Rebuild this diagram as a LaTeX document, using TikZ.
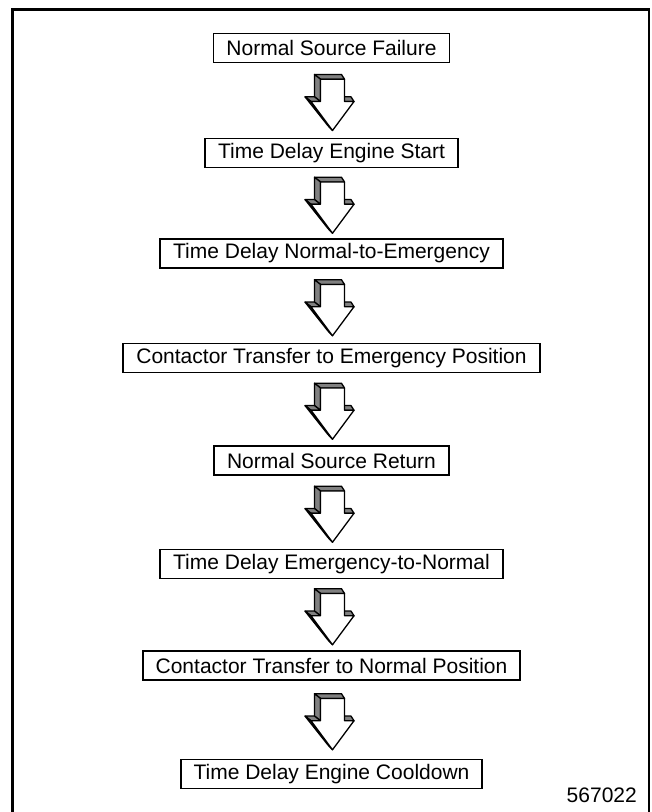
\documentclass[tikz,border=0pt]{standalone}
\usepackage{fontspec}
\setmainfont{Liberation Sans}
\usetikzlibrary{calc}
\tikzset{
  stepbox/.style={draw=black, line width=1.9pt, fill=white, inner xsep=13pt, inner ysep=0pt,
    minimum height=29pt, font=\fontsize{21}{24}\selectfont},
  arrface/.style={fill=black!50, draw=black, line width=1.3pt, line join=round},
  arrfront/.style={fill=white, draw=black, line width=1.3pt, line join=round},
  downarrow/.pic={
    % side faces (depth towards upper left)
    \path[arrface] (-17,-28) -- (10,-28) -- (13,-23.3) -- (-11,-23.3) -- cycle;
    \path[arrface] (-17,-5.7) -- (-17,-28) -- (-11,-23.3) -- (-11,-1) -- cycle;
    \path[arrface] (-26.5,-5.7) -- (-17,-5.7) -- (-11,-1) -- (-20.5,-1) -- cycle;
    \path[arrface] (-3.5,23.3) -- (-26.5,-5.7) -- (-20.5,-1) -- (1,28) -- cycle;
    \path[arrface] (10,-5.7) -- (19.5,-5.7) -- (22.5,-1) -- (13,-1) -- cycle;
    % front face
    \path[arrfront] (-11,-23.3) -- (13,-23.3) -- (13,-1) -- (22.5,-1) -- (1,28) -- (-20.5,-1) -- (-11,-1) -- cycle;
  }
}
\begin{document}
\begin{tikzpicture}[x=1pt,y=-1pt]
  \useasboundingbox (0,0) rectangle (652,812);
  \fill[white] (0,0) rectangle (652,812);
  \draw[line width=2.5pt] (12.5,815) -- (12.5,9.5) -- (649,9.5) -- (649,815);

  \node[stepbox] (n1) at (331.5,48)    {Normal Source Failure};
  \node[stepbox] (n2) at (331.5,153)   {Time Delay Engine Start};
  \node[stepbox] (n3) at (331.5,253.5) {Time Delay Normal-to-Emergency};
  \node[stepbox] (n4) at (331.5,358)   {Contactor Transfer to Emergency Position};
  \node[stepbox] (n5) at (331.5,460.5) {Normal Source Return};
  \node[stepbox] (n6) at (331.5,564)   {Time Delay Emergency-to-Normal};
  \node[stepbox] (n7) at (331.5,665.5) {Contactor Transfer to Normal Position};
  \node[stepbox] (n8) at (331.5,774)   {Time Delay Engine Cooldown};

  \foreach \a/\b in {n1/n2,n2/n3,n3/n4,n4/n5,n5/n6,n6/n7,n7/n8}{
    \pic at ($(\a.south)!0.5!(\b.north)+(0,2)$) {downarrow};
  }

  \node[anchor=base east, inner sep=0pt, font=\fontsize{21}{24}\selectfont] (num) at (637,802) {567022};
\end{tikzpicture}
\end{document}
